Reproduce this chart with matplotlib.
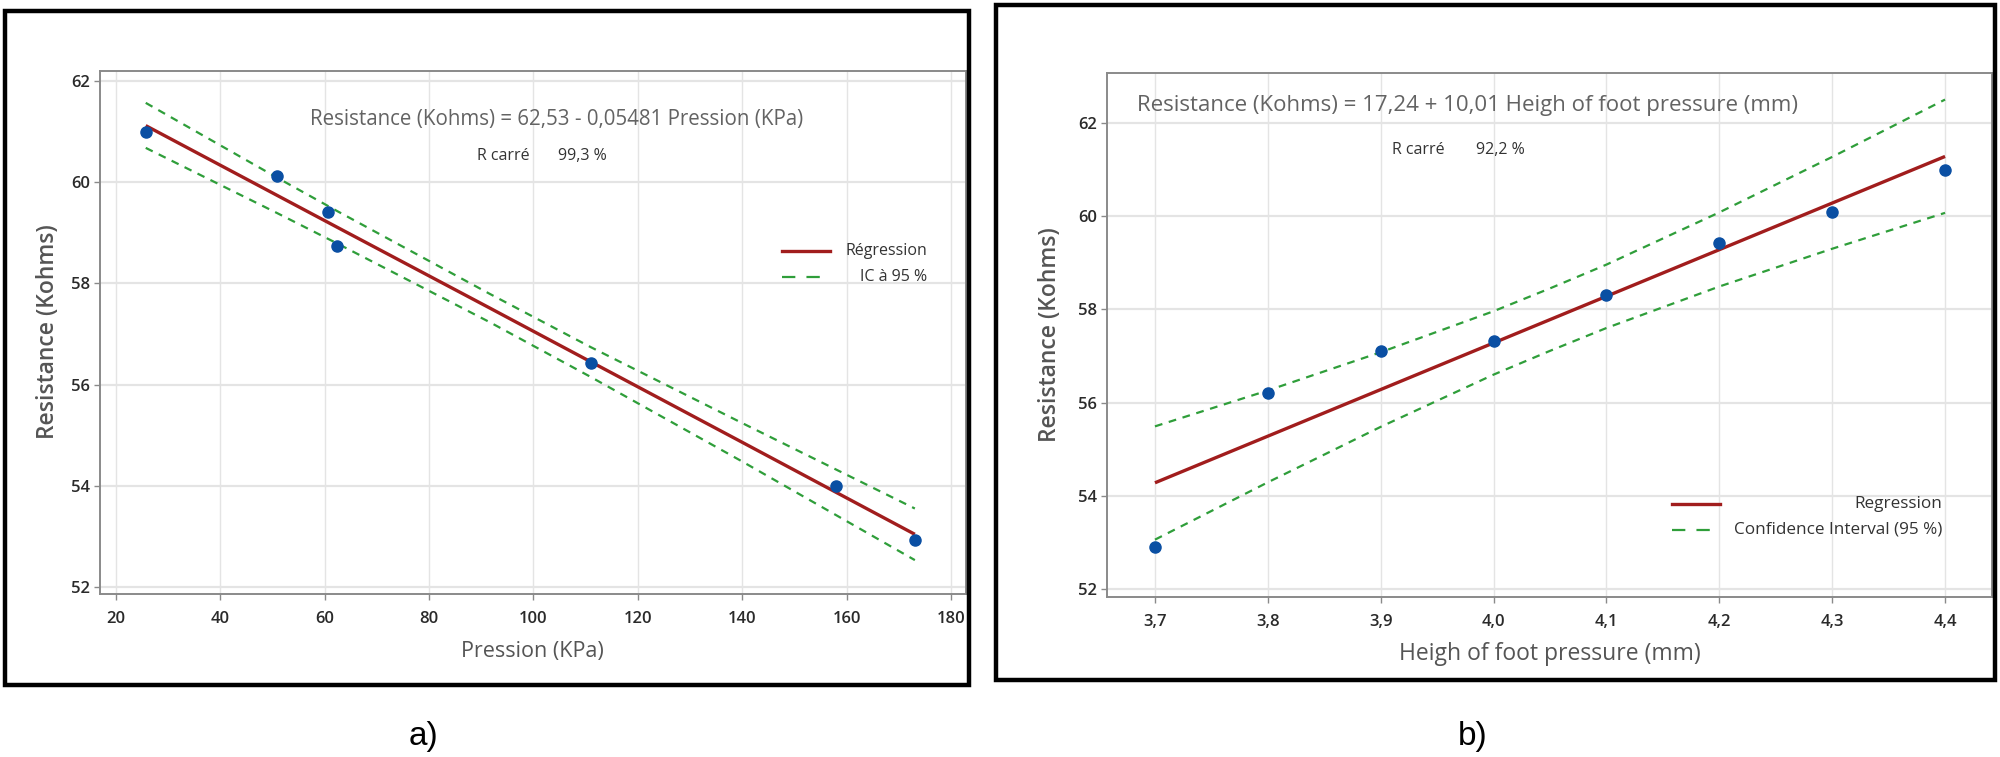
import matplotlib
matplotlib.use("Agg")
import matplotlib.pyplot as plt
from matplotlib.patches import Rectangle
from matplotlib.lines import Line2D
from matplotlib.ticker import FixedLocator, FuncFormatter

plt.rcParams['font.family'] = ['Open Sans', 'DejaVu Sans']

# ---------------- data: panel a ----------------
pression = [25.7, 50.9, 60.7, 62.4, 111.0, 157.9, 173.1]
resist_a = [61.00, 60.12, 59.42, 58.74, 56.42, 54.00, 52.93]
# fitted line and 95% CI read at band positions
band_x_a = [25.7, 50.9, 62.4, 91.7, 111.0, 140.0, 173.1]
fit_a = [61.12, 59.74, 59.11, 57.51, 56.45, 54.86, 53.04]
ci_up_a = [61.57, 60.09, 59.43, 57.79, 56.74, 55.24, 53.55]
ci_lo_a = [60.68, 59.39, 58.79, 57.23, 56.15, 54.48, 52.53]
xticks_a = [20, 40, 60, 80, 100, 120, 140, 160, 180]
yticks_a = [52, 54, 56, 58, 60, 62]

# ---------------- data: panel b ----------------
height = [3.7, 3.8, 3.9, 4.0, 4.1, 4.2, 4.3, 4.4]
resist_b = [52.90, 56.20, 57.10, 57.32, 58.31, 59.42, 60.08, 60.99]
band_x_b = [3.7, 3.8, 3.9, 4.0, 4.05, 4.1, 4.2, 4.3, 4.4]
fit_b = [54.28, 55.28, 56.28, 57.28, 57.78, 58.28, 59.28, 60.28, 61.28]
ci_up_b = [55.49, 56.26, 57.08, 57.96, 58.45, 58.96, 60.08, 61.27, 62.50]
ci_lo_b = [53.06, 54.29, 55.48, 56.60, 57.11, 57.60, 58.49, 59.30, 60.07]
xticks_b = [3.7, 3.8, 3.9, 4.0, 4.1, 4.2, 4.3, 4.4]
yticks_b = [52, 54, 56, 58, 60, 62]

# ---------------- style ----------------
BLUE = '#0a4fa3'
RED = '#a11d1d'
GREEN = '#2f9e3a'
GRID = '#e4e4e4'
SPINE = '#8a8a8a'
TICKC = '#2a2a2a'
TEXTG = '#636363'
LABG = '#555555'

W, H = 2000, 757
fig = plt.figure(figsize=(W / 100, H / 100), dpi=100)


def fx(px):
    return px / W


def fy(py):
    return 1 - py / H


def style_axes(ax, xticks, yticks, xfmt):
    ax.xaxis.set_major_locator(FixedLocator(xticks))
    ax.yaxis.set_major_locator(FixedLocator(yticks))
    ax.xaxis.set_major_formatter(FuncFormatter(xfmt))
    ax.yaxis.set_major_formatter(FuncFormatter(lambda v, p: f"{v:.0f}"))
    ax.grid(True, axis='y', color=GRID, lw=1.6, zorder=0)
    ax.grid(True, axis='x', color=GRID, lw=1.0, zorder=0)
    ax.set_axisbelow(True)
    for s in ax.spines.values():
        s.set_color(SPINE)
        s.set_linewidth(1.4)
    ax.tick_params(axis='both', colors=SPINE, labelcolor=TICKC, length=4,
                   width=1.0, labelsize=12, top=False, right=False)
    ax.tick_params(axis='y', pad=3)
    ax.tick_params(axis='x', pad=8)
    for lab in ax.get_xticklabels() + ax.get_yticklabels():
        lab.set_fontweight('semibold')


def draw_panel(ax, xs, ys, bx, fit, up, lo):
    dash = (3.5, 3)
    ax.plot(bx, up, color=GREEN, lw=1.6, ls=(0, dash), zorder=2)
    ax.plot(bx, lo, color=GREEN, lw=1.6, ls=(0, dash), zorder=2)
    ax.plot(bx, fit, color=RED, lw=2.4, zorder=3, solid_capstyle='butt')
    ax.plot(xs, ys, 'o', color=BLUE, ms=8, mec=BLUE, zorder=4)


# ---------------- panel a ----------------
axa = fig.add_axes([fx(99.5), fy(594), fx(966) - fx(99.5), fy(71) - fy(594)])
draw_panel(axa, pression, resist_a, band_x_a, fit_a, ci_up_a, ci_lo_a)
axa.set_xlim(16.84, 182.9)
axa.set_ylim(51.86, 62.2)
style_axes(axa, xticks_a, yticks_a, lambda v, p: f"{v:.0f}")

# ---------------- panel b ----------------
axb = fig.add_axes([fx(1107), fy(597), fx(1992) - fx(1107), fy(73) - fy(597)])
draw_panel(axb, height, resist_b, band_x_b, fit_b, ci_up_b, ci_lo_b)
axb.set_xlim(3.6575, 4.4416)
axb.set_ylim(51.83, 63.07)
style_axes(axb, xticks_b, yticks_b, lambda v, p: f"{v:.1f}".replace('.', ','))

# ---------------- frames ----------------
fig.patches.append(Rectangle((fx(5), fy(685)), fx(969) - fx(5), fy(11) - fy(685),
                             transform=fig.transFigure, fill=False,
                             ec='black', lw=3.2, zorder=10))
fig.patches.append(Rectangle((fx(996), fy(680)), fx(1995) - fx(996), fy(5) - fy(680),
                             transform=fig.transFigure, fill=False,
                             ec='black', lw=3.2, zorder=10))

# ---------------- texts panel a ----------------
fig.text(fx(557), fy(119), "Resistance (Kohms) = 62,53 - 0,05481 Pression (KPa)",
         ha='center', va='center', fontsize=14.8, color=TEXTG)
fig.text(fx(477), fy(156), "R carré", ha='left', va='center', fontsize=11.5, color='#333333')
fig.text(fx(558), fy(156), "99,3 %", ha='left', va='center', fontsize=11.5, color='#333333')
fig.text(fx(48), fy(332), "Resistance (Kohms)", rotation=90, ha='center', va='center',
         fontsize=16.5, color=LABG, fontweight='semibold')
fig.text(fx(532), fy(652), "Pression (KPa)", ha='center', va='center', fontsize=15.5,
         color=LABG)
fig.text(fx(423), fy(737), "a)", ha='center', va='center', fontsize=24,
         family=['Liberation Sans', 'DejaVu Sans'], color='black')

# legend a
fig.lines.append(Line2D([fx(782), fx(830)], [fy(251), fy(251)], transform=fig.transFigure,
                        color=RED, lw=2.4))
fig.lines.append(Line2D([fx(782), fx(828)], [fy(277), fy(277)], transform=fig.transFigure,
                        color=GREEN, lw=1.6, ls=(0, (6, 5))))
fig.text(fx(927), fy(251), "Régression", ha='right', va='center', fontsize=11.5, color='#333333')
fig.text(fx(927), fy(277), "IC à 95 %", ha='right', va='center', fontsize=11.5, color='#333333')

# ---------------- texts panel b ----------------
fig.text(fx(1137), fy(106), "Resistance (Kohms) = 17,24 + 10,01 Heigh of foot pressure (mm)",
         ha='left', va='center', fontsize=16, color=TEXTG)
fig.text(fx(1392), fy(150), "R carré", ha='left', va='center', fontsize=11.5, color='#333333')
fig.text(fx(1476), fy(150), "92,2 %", ha='left', va='center', fontsize=11.5, color='#333333')
fig.text(fx(1050), fy(335), "Resistance (Kohms)", rotation=90, ha='center', va='center',
         fontsize=16.5, color=LABG, fontweight='semibold')
fig.text(fx(1550), fy(654), "Heigh of foot pressure (mm)", ha='center', va='center',
         fontsize=16.5, color=LABG)
fig.text(fx(1473), fy(737), "b)", ha='center', va='center', fontsize=24,
         family=['Liberation Sans', 'DejaVu Sans'], color='black')

# legend b
fig.lines.append(Line2D([fx(1672), fx(1720)], [fy(504), fy(504)], transform=fig.transFigure,
                        color=RED, lw=2.4))
fig.lines.append(Line2D([fx(1672), fx(1717)], [fy(530), fy(530)], transform=fig.transFigure,
                        color=GREEN, lw=1.6, ls=(0, (6, 5))))
fig.text(fx(1942), fy(504), "Regression", ha='right', va='center', fontsize=12.3, color='#333333')
fig.text(fx(1942), fy(530), "Confidence Interval (95 %)", ha='right', va='center',
         fontsize=12.3, color='#333333')

fig.savefig("out.png", dpi=100, facecolor='white')
